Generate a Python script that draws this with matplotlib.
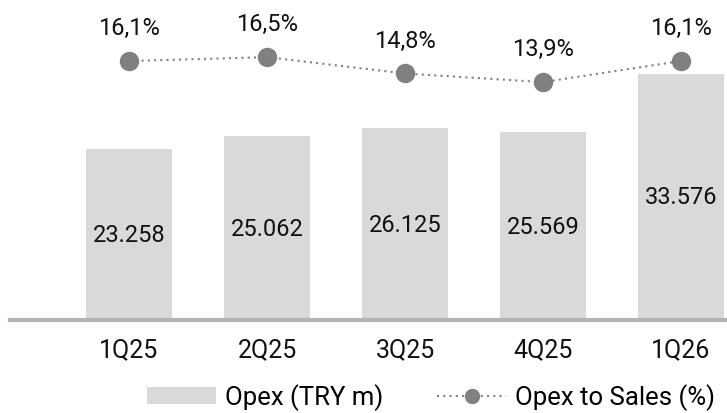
import matplotlib
matplotlib.use("Agg")
import matplotlib.pyplot as plt
from matplotlib.patches import Patch
from matplotlib.lines import Line2D

categories = ["1Q25", "2Q25", "3Q25", "4Q25", "1Q26"]
opex = [23.258, 25.062, 26.125, 25.569, 33.576]
opex_labels = ["23.258", "25.062", "26.125", "25.569", "33.576"]
ratio = [16.1, 16.5, 14.8, 13.9, 16.1]
ratio_labels = ["16,1%", "16,5%", "14,8%", "13,9%", "16,1%"]

plt.rcParams['font.family'] = ['Roboto', 'DejaVu Sans']

W, H = 727, 414
fig = plt.figure(figsize=(W/100, H/100), dpi=100)
ax_left, ax_bottom = 10, 321
ax = fig.add_axes([ax_left/W, (H-ax_bottom)/H, (W-ax_left)/W, ax_bottom/H])

x = list(range(len(categories)))
bar_color = "#d9d9d9"
ax.bar(x, opex, width=0.62, color=bar_color, zorder=1)
for xi, v, lab in zip(x, opex, opex_labels):
    ax.text(xi, v/2, lab, ha="center", va="center", fontsize=17, color="#111111")

ax.set_xlim((10-129)/138, (727-129)/138)
ax.set_ylim(0, 321/7.34)
for s in ["top", "right", "left"]:
    ax.spines[s].set_visible(False)
ax.spines["bottom"].set_color("#b3b3b3")
ax.spines["bottom"].set_linewidth(3)
ax.set_yticks([])
ax.set_xticks(x)
ax.set_xticklabels(categories, fontsize=18, color="#111111")
ax.tick_params(axis="x", length=0, pad=12)

ax2 = ax.twinx()
ax2.set_ylim(16.1 - (321-62)/9.6, 16.1 + 62/9.6)
ax2.plot(x, ratio, linestyle=(0, (1, 2)), color="#808080", linewidth=1.5,
         marker="o", markersize=13, markerfacecolor="#808080", markeredgecolor="#808080", zorder=3)
for xi, v, lab in zip(x, ratio, ratio_labels):
    ax2.annotate(lab, (xi, v), xytext=(0, 24), textcoords="offset points",
                 ha="center", va="center", fontsize=17, color="#111111")
ax2.set_yticks([])
for s in ["top", "right", "left", "bottom"]:
    ax2.spines[s].set_visible(False)

handles = [Patch(facecolor=bar_color, edgecolor="none"),
           Line2D([0], [0], linestyle=(0, (1, 2)), color="#808080", linewidth=1.5,
                  marker="o", markersize=10, markerfacecolor="#808080")]
fig.legend(handles, ["Opex (TRY m)", "Opex to Sales (%)"], loc="center",
           bbox_to_anchor=(431/W, 1 - 398/H), ncol=2, frameon=False, fontsize=18.5,
           handlelength=2.7, handleheight=0.65, columnspacing=2.1, handletextpad=0.35)

fig.savefig("out.png", dpi=100)
